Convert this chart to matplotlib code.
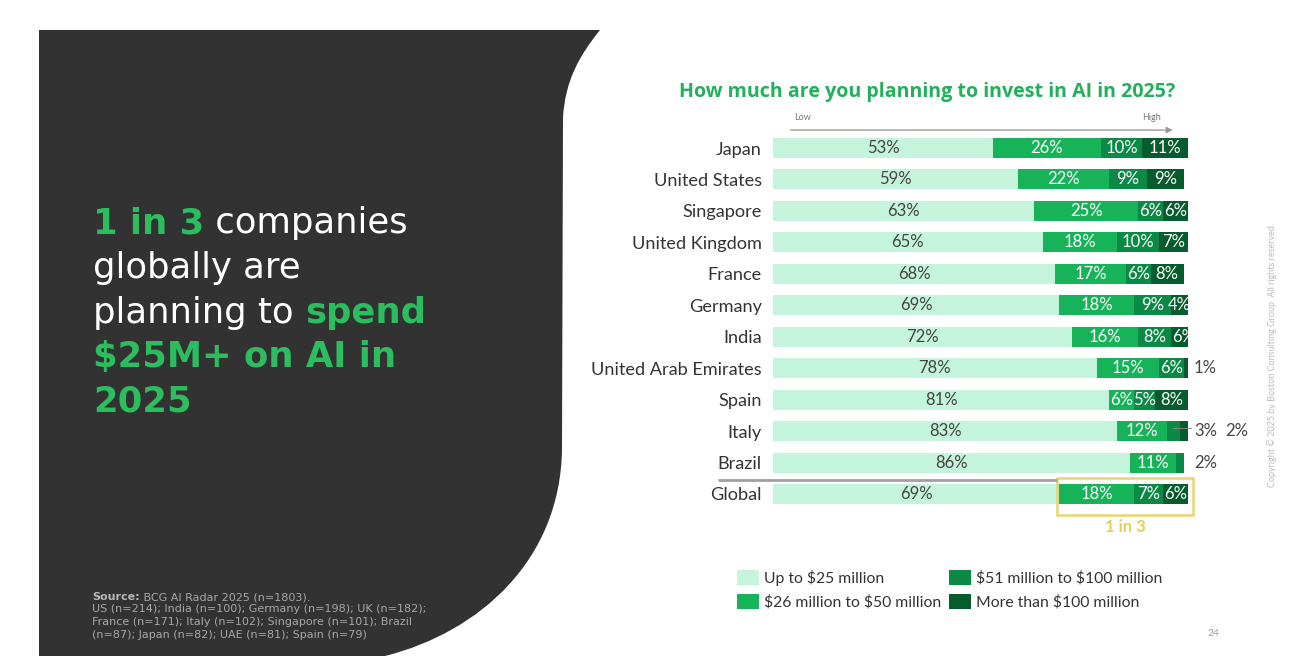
import matplotlib
matplotlib.use('Agg')
import matplotlib.pyplot as plt
from matplotlib.patches import PathPatch, Rectangle
from matplotlib.path import Path

plt.rcParams['text.parse_math'] = False
FONT = ['Lato', 'DejaVu Sans']
WIDE = ['DejaVu Sans']
plt.rcParams['font.family'] = FONT

# ---------------- data ----------------
countries = ["Japan", "United States", "Singapore", "United Kingdom", "France",
             "Germany", "India", "United Arab Emirates", "Spain", "Italy",
             "Brazil", "Global"]
up_to_25 = [53, 59, 63, 65, 68, 69, 72, 78, 81, 83, 86, 69]
m26_50 = [26, 22, 25, 18, 17, 18, 16, 15, 6, 12, 11, 18]
m51_100 = [10, 9, 6, 10, 6, 9, 8, 6, 5, 3, 2, 7]
over_100 = [11, 9, 6, 7, 8, 4, 6, 1, 8, 2, 0, 6]
series_names = ["Up to $25 million", "$26 million to $50 million",
                "$51 million to $100 million", "More than $100 million"]
title = "How much are you planning to invest in AI in 2025?"
source_lines = ["BCG AI Radar 2025 (n=1803).",
                "US (n=214); India (n=100); Germany (n=198); UK (n=182);",
                "France (n=171); Italy (n=102); Singapore (n=101); Brazil",
                "(n=87); Japan (n=82); UAE (n=81); Spain (n=79)"]

colors = ['#c4f4dc', '#16b359', '#0b8a45', '#065c2c']
label_colors = ['#444444', 'white', 'white', 'white']
GREEN = '#2bbd5e'
TITLE_GREEN = '#22b15a'
PANEL = '#323232'

W, H = 1312, 670
fig = plt.figure(figsize=(W / 100, H / 100), dpi=100)
bg = fig.add_axes([0, 0, 1, 1])
bg.set_xlim(0, W)
bg.set_ylim(H, 0)
bg.axis('off')

# ---------------- dark panel ----------------
verts = [(39, 30), (600, 30),
         (580, 55), (565, 80), (563, 118),
         (562, 450),
         (560, 560), (480, 632), (385, 656),
         (39, 656), (39, 30)]
codes = [Path.MOVETO, Path.LINETO,
         Path.CURVE4, Path.CURVE4, Path.CURVE4,
         Path.LINETO,
         Path.CURVE4, Path.CURVE4, Path.CURVE4,
         Path.LINETO, Path.CLOSEPOLY]
bg.add_patch(PathPatch(Path(verts, codes), facecolor=PANEL, edgecolor='none'))

renderer = fig.canvas.get_renderer()


def text_width(s, **kw):
    t1 = bg.text(0, 0, s + '.', **kw)
    t2 = bg.text(0, 0, '.', **kw)
    w = t1.get_window_extent(renderer).width - t2.get_window_extent(renderer).width
    t1.remove()
    t2.remove()
    return w


def rich_line(x, y, parts, size, family):
    for txt, col, wt in parts:
        kw = dict(color=col, fontsize=size, fontweight=wt, va='baseline', ha='left',
                  family=family)
        bg.text(x, y, txt, **kw)
        x += text_width(txt, **kw)


BIG = 25.5
lines = [
    [("1 in 3", GREEN, 'bold'), (" companies", 'white', 'normal')],
    [("globally are", 'white', 'normal')],
    [("planning to ", 'white', 'normal'), ("spend", GREEN, 'bold')],
    [("$25M+ on AI in", GREEN, 'bold')],
    [("2025", GREEN, 'bold')],
]
for i, parts in enumerate(lines):
    rich_line(93, 233 + i * 44.75, parts, BIG, WIDE)

# source
rich_line(92, 600, [("Source:", '#b8b8b8', 'bold'), (" " + source_lines[0], '#a8a8a8', 'normal')],
          8.0, WIDE)
for i, s in enumerate(source_lines[1:]):
    bg.text(92, 612.5 + i * 12.5, s, color='#a8a8a8', fontsize=8.0, va='baseline',
            family=WIDE)

# title
bg.text(927, 97, title, color=TITLE_GREEN, fontsize=14.1, fontweight='bold',
        ha='center', va='baseline', family=['Open Sans', 'DejaVu Sans'])

# page number & copyright
bg.text(1213, 636, "24", color='#999999', fontsize=7.5, ha='center', va='baseline')
bg.text(1272, 355, "Copyright © 2025 by Boston Consulting Group. All rights reserved.",
        color='#bbbbbb', fontsize=6.5, rotation=90, ha='center', va='center')

# ---------------- chart ----------------
x0, x1 = 773, 1188
yc0, yc1 = 148, 494
n = len(countries)
step = (yc1 - yc0) / (n - 1)
top_px = yc0 - step / 2
bot_px = yc1 + step / 2
ax = fig.add_axes([x0 / W, 1 - bot_px / H, (x1 - x0) / W, (bot_px - top_px) / H])
ax.set_xlim(0, 100)
ax.set_ylim(n - 0.5, -0.5)
ax.patch.set_alpha(0)
for s in ax.spines.values():
    s.set_visible(False)
ax.set_xticks([])
ax.set_yticks(range(n))
ax.set_yticklabels(countries, fontsize=13.1, color='#333333')
ax.tick_params(axis='y', length=0, pad=8)

series = [up_to_25, m26_50, m51_100, over_100]
ypos = list(range(n))
left = [0] * n
bh = 20 / step
for k, vals in enumerate(series):
    ax.barh(ypos, vals, left=left, height=bh, color=colors[k], label=series_names[k],
            edgecolor='none')
    left = [l + v for l, v in zip(left, vals)]

# labels
for i in range(n):
    vals = [s[i] for s in series]
    start = 0
    out_idx = 0
    last_nonzero = max(k for k, v in enumerate(vals) if v > 0)
    for k, v in enumerate(vals):
        if v <= 0:
            continue
        cx = start + v / 2
        if v >= 4 or k == 0:
            ax.text(cx, i, f"{v}%", ha='center', va='center', fontsize=12,
                    color=label_colors[k])
        else:
            lx = 104.2 + out_idx * 7.5
            ax.text(lx, i, f"{v}%", ha='center', va='center', fontsize=12,
                    color='#444444', clip_on=False)
            if k != last_nonzero:
                ax.plot([cx, lx - 3.4], [i - 0.1, i - 0.1], color='#888888', lw=0.7,
                        clip_on=False)
            out_idx += 1
        start += v

# separator line above Global
ax.plot([-13.3, 68.5], [n - 1.45, n - 1.45], color='#a0a0a0', lw=2, clip_on=False,
        solid_capstyle='butt')

# yellow box around Global 25M+
g = n - 1
ax.add_patch(Rectangle((up_to_25[g] - 0.6, g - 0.51), 100 - up_to_25[g] + 1.8, 1.18,
                       fill=False, edgecolor='#e7d56e', lw=1.8, clip_on=False))
ax.text(85, g + 1.05, "1 in 3", ha='center', va='center', fontsize=12,
        color='#e3cf5a', fontweight='bold', clip_on=False)

# low/high arrow
ax.annotate('', xy=(97, -0.57), xytext=(3.6, -0.57), xycoords='data',
            arrowprops=dict(arrowstyle='-|>', color='#999999', lw=1, mutation_scale=9),
            annotation_clip=False)
ax.text(5.2, -0.98, "Low", fontsize=6.5, color='#777777', ha='left', va='center', clip_on=False)
ax.text(93.5, -0.98, "High", fontsize=6.5, color='#777777', ha='right', va='center', clip_on=False)

# legend
fig.legend(loc='upper left', bbox_to_anchor=(737 / W, 1 - 570 / H), ncol=2,
           frameon=False, fontsize=11.3, labelcolor='#333333', handlelength=1.4,
           handleheight=1.1, handletextpad=0.35, columnspacing=0.45, labelspacing=0.48,
           borderpad=0, borderaxespad=0)

fig.savefig('out.png', dpi=100, facecolor='white')
